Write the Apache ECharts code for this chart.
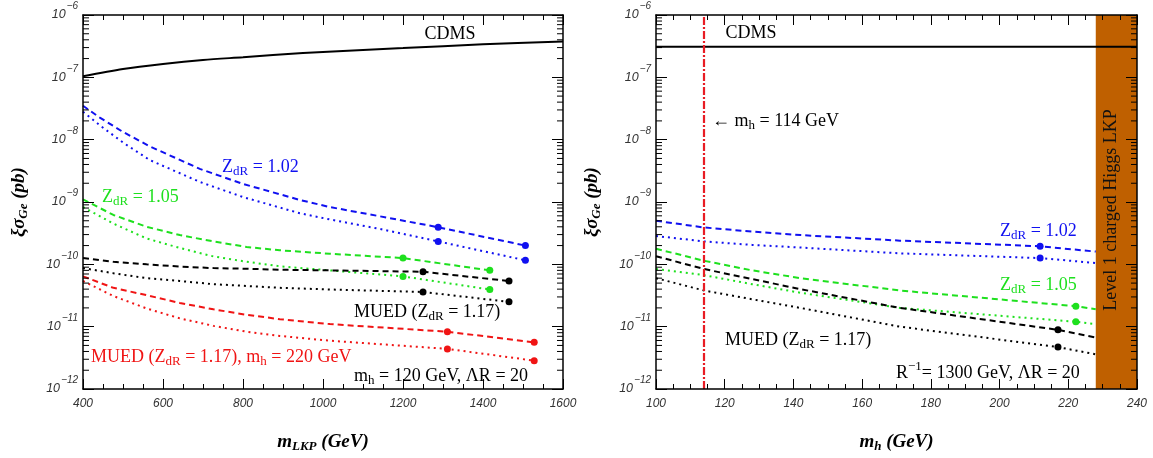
<!DOCTYPE html>
<html>
<head>
<meta charset="utf-8">
<script src="https://cdn.jsdelivr.net/npm/echarts@6/dist/echarts.min.js"></script>
<style>html,body{margin:0;padding:0;background:#fff}#main{width:1153px;height:458px}</style>
</head>
<body>
<div id="main"></div>
<script>
// ---- left panel: xi*sigma_Ge (pb) vs m_LKP (GeV)
var cdmsL_x = [400, 500, 600, 700, 800, 950, 1100, 1200, 1400, 1600];
var cdmsL_y = [1.04e-7, 1.36e-7, 1.64e-7, 1.9e-7, 2.1e-7, 2.45e-7, 2.75e-7, 2.95e-7, 3.38e-7, 3.76e-7];

var blueL_x = [400, 442, 500, 567, 692, 800, 942, 1017, 1142, 1288, 1506];
var blueDashL_y = [3.5e-8, 2.26e-8, 1.33e-8, 7.8e-9, 3.4e-9, 1.95e-9, 1.08e-9, 8.3e-10, 5.9e-10, 3.94e-10, 2.0e-10];
var blueDotL_y = [2.8e-8, 1.7e-8, 9.0e-9, 4.7e-9, 2.1e-9, 1.2e-9, 6.6e-10, 5.25e-10, 3.7e-10, 2.33e-10, 1.16e-10];

var greenL_x = [400, 476, 559, 642, 726, 809, 892, 1017, 1200, 1417];
var greenDashL_y = [1.1e-9, 6.2e-10, 4.0e-10, 2.95e-10, 2.33e-10, 1.9e-10, 1.68e-10, 1.48e-10, 1.26e-10, 8.0e-11];
var greenDotL_y = [8.3e-10, 4.5e-10, 2.6e-10, 1.83e-10, 1.34e-10, 1.1e-10, 9.3e-11, 8.0e-11, 6.4e-11, 3.95e-11];

var blackL_x = [400, 476, 559, 642, 726, 809, 892, 1017, 1250, 1465];
var blackDashL_y = [1.26e-10, 1.1e-10, 1.0e-10, 9.2e-11, 8.7e-11, 8.5e-11, 8.2e-11, 8.0e-11, 7.6e-11, 5.4e-11];
var blackDotL_y = [8.7e-11, 7.2e-11, 6.0e-11, 5.4e-11, 4.8e-11, 4.5e-11, 4.2e-11, 3.95e-11, 3.6e-11, 2.5e-11];

var redL_x = [400, 476, 559, 642, 726, 809, 892, 1017, 1311, 1528];
var redDashL_y = [6.4e-11, 4.2e-11, 3.2e-11, 2.4e-11, 1.9e-11, 1.55e-11, 1.32e-11, 1.1e-11, 8.3e-12, 5.6e-12];
var redDotL_y = [5.4e-11, 3.1e-11, 1.96e-11, 1.36e-11, 1.03e-11, 8.3e-12, 7.1e-12, 5.95e-12, 4.4e-12, 2.85e-12];

var blueMarkL_x = [1288, 1506, 1288, 1506];
var blueMarkL_y = [3.94e-10, 2.0e-10, 2.33e-10, 1.16e-10];
var greenMarkL_x = [1200, 1417, 1200, 1417];
var greenMarkL_y = [1.26e-10, 8.0e-11, 6.4e-11, 3.95e-11];
var blackMarkL_x = [1250, 1465, 1250, 1465];
var blackMarkL_y = [7.6e-11, 5.4e-11, 3.6e-11, 2.5e-11];
var redMarkL_x = [1311, 1528, 1311, 1528];
var redMarkL_y = [8.3e-12, 5.6e-12, 4.4e-12, 2.85e-12];

// ---- right panel: xi*sigma_Ge (pb) vs m_h (GeV)
var cdmsR_x = [100, 240];
var cdmsR_y = [3.1e-7, 3.1e-7];
var lepLimit = 114;            // m_h = 114 GeV
var chargedHiggs = [228, 240]; // level 1 charged Higgs LKP region

var blueR_x = [100, 114, 128, 142, 171, 211.8, 228];
var blueDashR_y = [5.0e-10, 3.9e-10, 3.35e-10, 2.95e-10, 2.4e-10, 1.95e-10, 1.6e-10];
var blueDotR_y = [2.85e-10, 2.33e-10, 2.05e-10, 1.86e-10, 1.5e-10, 1.26e-10, 1.05e-10];
var greenR_x = [100, 114, 128, 142, 171, 222.2, 228];
var greenDashR_y = [1.78e-10, 1.14e-10, 8.0e-11, 6.0e-11, 3.8e-11, 2.13e-11, 1.9e-11];
var greenDotR_y = [8.4e-11, 6.7e-11, 4.8e-11, 3.5e-11, 2.0e-11, 1.2e-11, 1.1e-11];
var blackR_x = [100, 114, 128, 142, 171, 217, 228];
var blackDashR_y = [1.35e-10, 8.4e-11, 5.8e-11, 4.0e-11, 2.0e-11, 8.9e-12, 6.7e-12];
var blackDotR_y = [6.0e-11, 3.8e-11, 2.75e-11, 2.0e-11, 1.0e-11, 4.7e-12, 3.6e-12];

var blueMarkR_x = [211.8, 211.8];
var blueMarkR_y = [1.95e-10, 1.26e-10];
var greenMarkR_x = [222.2, 222.2];
var greenMarkR_y = [2.13e-11, 1.2e-11];
var blackMarkR_x = [217, 217];
var blackMarkR_y = [8.9e-12, 4.7e-12];

// log axis minor ticks
var decadeExp = [-12, -11, -10, -9, -8, -7];
var minorMult = [2, 3, 4, 5, 6, 7, 8, 9];

var SERIF = '"Liberation Serif", "Times New Roman", serif';
var SANS = '"Liberation Sans", Arial, sans-serif';
var BLUE = '#1010f0', GREEN = '#1ee01e', RED = '#f01414', BLACK = '#000';
var DASH = [6, 4], DOT = [2, 4];

function pts(xs, ys) {
    return xs.map(function (x, i) { return [x, ys[i]]; });
}

function curve(xs, ys, color, dash, g) {
    return {
        type: 'line', xAxisIndex: g * 2, yAxisIndex: g * 2,
        data: pts(xs, ys), showSymbol: false, symbol: 'none',
        lineStyle: { color: color, width: 2, type: dash, cap: 'butt' },
        z: 2, silent: true
    };
}

function marks(xs, ys, color, g) {
    return {
        type: 'scatter', xAxisIndex: g * 2, yAxisIndex: g * 2,
        data: pts(xs, ys), symbol: 'circle', symbolSize: 7,
        itemStyle: { color: color, opacity: 1 }, z: 3, silent: true
    };
}

function minorTickData(xmin) {
    var d = [];
    decadeExp.forEach(function (e) {
        minorMult.forEach(function (m) { d.push([xmin, m * Math.pow(10, e)]); });
    });
    return d;
}

function minorTicks(g, xmin) {
    return {
        type: 'custom', xAxisIndex: g * 2, yAxisIndex: g * 2,
        data: minorTickData(xmin), clip: false, silent: true, z: 6,
        renderItem: function (params, api) {
            var cs = params.coordSys;
            var p = api.coord([api.value(0), api.value(1)]);
            var len = 6;
            return {
                type: 'group', children: [
                    { type: 'line', shape: { x1: cs.x, y1: p[1], x2: cs.x + len, y2: p[1] }, style: { stroke: '#000', lineWidth: 1 } },
                    { type: 'line', shape: { x1: cs.x + cs.width - len, y1: p[1], x2: cs.x + cs.width, y2: p[1] }, style: { stroke: '#000', lineWidth: 1 } }
                ]
            };
        }
    };
}

var nameRich = {
    a: { fontFamily: SERIF, fontSize: 19, fontStyle: 'italic', fontWeight: 'bold', color: '#000' },
    s: { fontFamily: SERIF, fontSize: 13, fontStyle: 'italic', fontWeight: 'bold', color: '#000', padding: [9, 0, 0, 0] }
};

function xAx(g, min, max, interval, pos, labels, name) {
    return {
        type: 'value', gridIndex: g, min: min, max: max, interval: interval, position: pos, z: 10,
        axisLine: { show: true, onZero: false, lineStyle: { color: '#000', width: 1.5 } },
        axisTick: { show: true, inside: true, length: 10, lineStyle: { color: '#000', width: 1 } },
        minorTick: { show: true, splitNumber: 4, length: 5, lineStyle: { color: '#000', width: 1 } },
        splitLine: { show: false }, minorSplitLine: { show: false },
        axisLabel: {
            show: labels, margin: 9, fontFamily: SANS, fontStyle: 'italic', fontSize: 12, color: '#333',
            formatter: function (v) { return String(v); }
        },
        name: name || '', nameLocation: 'middle', nameGap: 42, nameTextStyle: { rich: nameRich }
    };
}

function yAx(g, pos, labels) {
    return {
        type: 'log', logBase: 10, gridIndex: g, min: 1e-12, max: 1e-6, position: pos, z: 10,
        axisLine: { show: true, onZero: false, lineStyle: { color: '#000', width: 1.5 } },
        axisTick: { show: true, inside: true, length: 11, lineStyle: { color: '#000', width: 1 } },
        splitLine: { show: false },
        axisLabel: {
            show: labels, margin: 5,
            formatter: function (v) { return '{b|10}{s|\u2212' + Math.round(-Math.log10(v)) + '}'; },
            rich: {
                b: { fontFamily: SANS, fontStyle: 'italic', fontSize: 12.5, color: '#333' },
                s: { fontFamily: SANS, fontStyle: 'italic', fontSize: 10, color: '#333', padding: [0, 0, 17, 1] }
            }
        },
        name: labels ? '{a|\u03be\u03c3}{s|Ge}{a| (pb)}' : '',
        nameLocation: 'middle', nameRotate: 90, nameGap: 53, nameTextStyle: { rich: nameRich }
    };
}

function note(x, y, text, color, align) {
    return {
        type: 'text', x: x, y: y, z: 100, silent: true,
        style: {
            text: text, align: align || 'left', verticalAlign: 'middle', fill: color,
            font: '18px ' + SERIF,
            rich: {
                n: { fontFamily: SERIF, fontSize: 18, fill: color },
                s: { fontFamily: SERIF, fontSize: 13, fill: color, padding: [10, 0, 0, 0] },
                p: { fontFamily: SERIF, fontSize: 13, fill: color, padding: [0, 0, 13, 0] }
            }
        }
    };
}

var chart = echarts.init(document.getElementById('main'));

var option = {
    animation: false,
    backgroundColor: '#fff',
    grid: [
        { left: 83, top: 15, width: 480, height: 377 },
        { left: 656, top: 15, width: 481, height: 377 }
    ],
    xAxis: [
        xAx(0, 400, 1600, 200, 'bottom', true, '{a|m}{s|LKP}{a| (GeV)}'),
        xAx(0, 400, 1600, 200, 'top', false),
        xAx(1, 100, 240, 20, 'bottom', true, '{a|m}{s|h}{a| (GeV)}'),
        xAx(1, 100, 240, 20, 'top', false)
    ],
    yAxis: [
        yAx(0, 'left', true),
        yAx(0, 'right', false),
        yAx(1, 'left', true),
        yAx(1, 'right', false)
    ],
    graphic: [
        note(450, 34, '{n|CDMS}', BLACK, 'center'),
        note(222, 167, '{n|Z}{s|dR}{n| = 1.02}', BLUE),
        note(102, 197, '{n|Z}{s|dR}{n| = 1.05}', GREEN),
        note(354, 312, '{n|MUED (Z}{s|dR}{n| = 1.17)}', BLACK),
        note(91, 357, '{n|MUED (Z}{s|dR}{n| = 1.17), m}{s|h}{n| = 220 GeV}', RED),
        note(354, 376, '{n|m}{s|h}{n| = 120 GeV, \u039bR = 20}', BLACK),
        note(751, 33, '{n|CDMS}', BLACK, 'center'),
        note(712, 121, '{n|\u2190 m}{s|h}{n| = 114 GeV}', BLACK),
        note(1000, 231, '{n|Z}{s|dR}{n| = 1.02}', BLUE),
        note(1000, 285, '{n|Z}{s|dR}{n| = 1.05}', GREEN),
        note(725, 340, '{n|MUED (Z}{s|dR}{n| = 1.17)}', BLACK),
        note(896, 373, '{n|R}{p|\u22121}{n|= 1300 GeV, \u039bR = 20}', BLACK),
        {
            type: 'text', x: 1111, y: 210, rotation: Math.PI / 2, z: 100, silent: true,
            style: { text: 'Level 1 charged Higgs LKP', align: 'center', verticalAlign: 'middle', fill: '#111', font: '18px ' + SERIF }
        }
    ],
    series: [
        {
            type: 'line', xAxisIndex: 0, yAxisIndex: 0, data: pts(cdmsL_x, cdmsL_y),
            showSymbol: false, symbol: 'none', smooth: 0.3, silent: true,
            lineStyle: { color: BLACK, width: 2 }, z: 2
        },
        curve(blueL_x, blueDashL_y, BLUE, DASH, 0),
        curve(blueL_x, blueDotL_y, BLUE, DOT, 0),
        curve(greenL_x, greenDashL_y, GREEN, DASH, 0),
        curve(greenL_x, greenDotL_y, GREEN, DOT, 0),
        curve(blackL_x, blackDashL_y, BLACK, DASH, 0),
        curve(blackL_x, blackDotL_y, BLACK, DOT, 0),
        curve(redL_x, redDashL_y, RED, DASH, 0),
        curve(redL_x, redDotL_y, RED, DOT, 0),
        marks(blueMarkL_x, blueMarkL_y, BLUE, 0),
        marks(greenMarkL_x, greenMarkL_y, GREEN, 0),
        marks(blackMarkL_x, blackMarkL_y, BLACK, 0),
        marks(redMarkL_x, redMarkL_y, RED, 0),
        minorTicks(0, 400),
        {
            type: 'line', xAxisIndex: 2, yAxisIndex: 2, data: pts(cdmsR_x, cdmsR_y),
            showSymbol: false, symbol: 'none', silent: true,
            lineStyle: { color: BLACK, width: 2 }, z: 4,
            markArea: {
                silent: true, z: 1,
                itemStyle: { color: '#bf6000', opacity: 1 },
                data: [[{ xAxis: chargedHiggs[0] }, { xAxis: chargedHiggs[1] }]]
            },
            markLine: {
                silent: true, symbol: ['none', 'none'], label: { show: false },
                lineStyle: { color: '#e81c24', width: 2.2, type: [8, 2, 2, 2] },
                data: [{ xAxis: lepLimit }]
            }
        },
        curve(blueR_x, blueDashR_y, BLUE, DASH, 1),
        curve(blueR_x, blueDotR_y, BLUE, DOT, 1),
        curve(greenR_x, greenDashR_y, GREEN, DASH, 1),
        curve(greenR_x, greenDotR_y, GREEN, DOT, 1),
        curve(blackR_x, blackDashR_y, BLACK, DASH, 1),
        curve(blackR_x, blackDotR_y, BLACK, DOT, 1),
        marks(blueMarkR_x, blueMarkR_y, BLUE, 1),
        marks(greenMarkR_x, greenMarkR_y, GREEN, 1),
        marks(blackMarkR_x, blackMarkR_y, BLACK, 1),
        minorTicks(1, 100)
    ]
};

chart.setOption(option);

window.onresize = chart.resize;
</script>
</body>
</html>
